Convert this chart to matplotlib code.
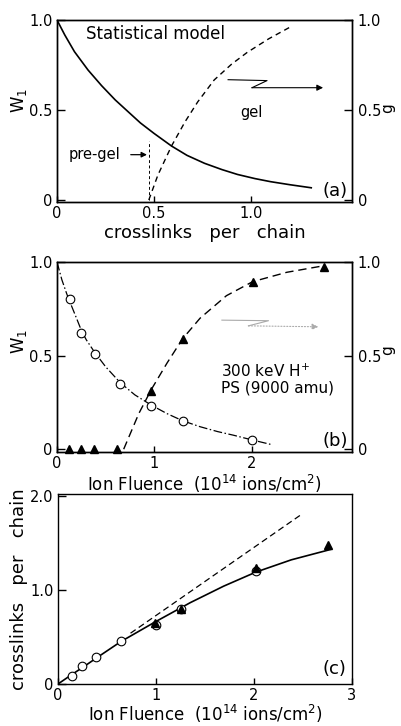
import matplotlib
matplotlib.use("Agg")
import matplotlib.pyplot as plt
from matplotlib import font_manager

plt.rcParams['font.family'] = ['DejaVu Sans']
plt.rcParams['mathtext.fontset'] = 'dejavusans'

# narrow font for tick labels if available
_names = {f.name for f in font_manager.fontManager.ttflist}
TICK_FAMILY = ['Liberation Sans Narrow'] if 'Liberation Sans Narrow' in _names else ['DejaVu Sans']

# ---------------- data ----------------
# panel (a): statistical model
a_w1_x = [0, 0.04, 0.09, 0.16, 0.23, 0.30, 0.37, 0.43, 0.50, 0.59, 0.67, 0.76, 0.85, 0.93,
          1.02, 1.10, 1.20, 1.31]
a_w1_y = [1.0, 0.917, 0.824, 0.722, 0.635, 0.556, 0.487, 0.428, 0.37, 0.30, 0.248, 0.204,
          0.169, 0.142, 0.119, 0.102, 0.085, 0.068]
a_g_x = [0.473, 0.52, 0.59, 0.66, 0.725, 0.81, 0.90, 0.98, 1.09, 1.20]
a_g_y = [0.0, 0.139, 0.30, 0.435, 0.545, 0.667, 0.755, 0.82, 0.895, 0.96]
gel_point = 0.473
gel_line_top = 0.33

# panel (b): 300 keV H+ on PS (9000 amu)
b_w1_pts_x = [0.13, 0.25, 0.39, 0.65, 0.97, 1.29, 2.0]
b_w1_pts_y = [0.80, 0.62, 0.51, 0.35, 0.23, 0.15, 0.05]
b_w1_fit_x = [0, 0.05, 0.10, 0.13, 0.20, 0.25, 0.30, 0.39, 0.50, 0.65, 0.80, 0.97, 1.13,
              1.29, 1.47, 1.65, 1.81, 2.0, 2.2]
b_w1_fit_y = [1.0, 0.905, 0.83, 0.79, 0.70, 0.635, 0.585, 0.515, 0.44, 0.355, 0.29, 0.235,
              0.19, 0.152, 0.12, 0.094, 0.075, 0.05, 0.025]
b_g_pts_x = [0.12, 0.25, 0.38, 0.62, 0.97, 1.29, 2.01, 2.74]
b_g_pts_y = [0.0, 0.0, 0.0, 0.0, 0.31, 0.59, 0.895, 0.975]
b_g_fit_x = [0.685, 0.84, 0.97, 1.13, 1.29, 1.47, 1.74, 2.01, 2.36, 2.74]
b_g_fit_y = [0.0, 0.19, 0.32, 0.46, 0.59, 0.70, 0.82, 0.895, 0.945, 0.98]

# panel (c): crosslinks per chain vs fluence
c_circ_x = [0.14, 0.245, 0.39, 0.64, 1.0, 1.25, 2.02]
c_circ_y = [0.09, 0.19, 0.29, 0.46, 0.625, 0.795, 1.20]
c_tri_x = [0.99, 1.25, 2.02, 2.76]
c_tri_y = [0.65, 0.80, 1.23, 1.48]
c_fit_x = [0, 0.14, 0.25, 0.39, 0.64, 1.0, 1.35, 1.69, 2.02, 2.38, 2.78]
c_fit_y = [0, 0.10, 0.175, 0.275, 0.45, 0.665, 0.865, 1.04, 1.19, 1.32, 1.43]
c_lin_x = [0.74, 2.48]
c_lin_y = [0.54, 1.80]

a_xticks = [0, 0.5, 1.0]
a_xticklabels = ['0', '0.5', '1.0']
y_ticks = [0, 0.5, 1.0]
y_ticklabels = ['0', '0.5', '1.0']
f_ticks_b = [0, 1, 2]
f_ticks_c = [0, 1, 2, 3]
c_yticks = [0, 1.0, 2.0]
c_yticklabels = ['0', '1.0', '2.0']

W, H = 401, 726
fig = plt.figure(figsize=(W / 100, H / 100), dpi=100)

TS = 11.5 if TICK_FAMILY[0] != 'DejaVu Sans' else 10.5
LS = 12


def box(l, t, r, b):
    return [l / W, 1 - b / H, (r - l) / W, (b - t) / H]


def style(ax):
    for s in ax.spines.values():
        s.set_linewidth(1.0)
    ax.tick_params(axis='y', direction='in', length=6, width=1, labelsize=TS, pad=3)
    ax.tick_params(axis='x', direction='in', length=4, width=1, labelsize=TS, pad=3)


def tickfont(ax):
    for lab in ax.get_xticklabels() + ax.get_yticklabels():
        lab.set_family(TICK_FAMILY)


def z_arrow(ax, pts, color='black', ls='-', ls2='-'):
    (x0, y0), (x1, y1), (x2, y2), (x3, y3) = pts
    ax.plot([x0, x1, x2], [y0, y1, y2], transform=ax.transAxes, color=color, lw=0.8, ls=ls)
    ax.annotate('', xy=(x3, y3), xytext=(x2, y2), xycoords='axes fraction',
                arrowprops=dict(arrowstyle='-|>', color=color, lw=0.8, ls=ls2,
                                mutation_scale=9, shrinkA=0, shrinkB=0))


# ---------------- panel (a) ----------------
axA = fig.add_axes(box(57, 20, 352, 202))
style(axA)
axA.set_xlim(0, 1.52)
axA.set_ylim(-0.011, 1.0)
axA.plot(a_w1_x, a_w1_y, color='black', lw=1.2)
axA.plot([gel_point, gel_point], [0, gel_line_top], color='black', lw=0.7, dashes=(3, 2.5))
axA.set_xticks(a_xticks)
axA.set_xticklabels(a_xticklabels)
axA.set_yticks(y_ticks)
axA.set_yticklabels(y_ticklabels)
tickfont(axA)
axA.set_xlabel('crosslinks   per   chain', fontsize=13, labelpad=2)
axA.set_ylabel('W$_1$', fontsize=LS)
axA.yaxis.set_label_coords(-0.095, 0.56)
axA.text(0.10, 0.925, 'Statistical model', transform=axA.transAxes, fontsize=12, va='center')
axA.text(0.04, 0.26, 'pre-gel', transform=axA.transAxes, fontsize=10.5, va='center')
axA.annotate('', xy=(0.305, 0.26), xytext=(0.25, 0.26), xycoords='axes fraction',
             arrowprops=dict(arrowstyle='-|>', color='black', lw=0.9, mutation_scale=8,
                             shrinkA=0, shrinkB=0))
axA.text(0.66, 0.49, 'gel', transform=axA.transAxes, fontsize=10.5, va='center', ha='center')
z_arrow(axA, [(0.58, 0.672), (0.712, 0.667), (0.661, 0.628), (0.902, 0.628)])
axA.text(0.985, 0.06, '(a)', transform=axA.transAxes, fontsize=13, ha='right', va='center')

axA2 = axA.twinx()
style(axA2)
axA2.set_ylim(-0.011, 1.0)
axA2.plot(a_g_x, a_g_y, color='black', lw=1.0, dashes=(4, 3))
axA2.set_yticks(y_ticks)
axA2.set_yticklabels(y_ticklabels)
tickfont(axA2)
axA2.tick_params(axis='y', pad=4)
axA2.set_ylabel('g', fontsize=11, rotation=90)
axA2.yaxis.set_label_coords(1.095, 0.516)

# ---------------- panel (b) ----------------
axB = fig.add_axes(box(57, 262, 352, 452))
style(axB)
axB.set_xlim(0, 3.03)
axB.set_ylim(-0.015, 1.0)
axB.plot(b_w1_fit_x, b_w1_fit_y, color='black', lw=0.9, dashes=(7, 2, 1.2, 2))
axB.plot(b_w1_pts_x, b_w1_pts_y, ls='none', marker='o', ms=6.2, mfc='white',
         mec='black', mew=0.8, zorder=5)
axB.set_xticks(f_ticks_b)
axB.set_yticks(y_ticks)
axB.set_yticklabels(y_ticklabels)
tickfont(axB)
axB.set_xlabel('Ion Fluence  (10$^{14}$ ions/cm$^2$)', fontsize=LS, labelpad=1)
axB.set_ylabel('W$_1$', fontsize=LS)
axB.yaxis.set_label_coords(-0.095, 0.584)
axB.text(0.555, 0.427, '300 keV H$^{+}$', transform=axB.transAxes, fontsize=11, va='center')
axB.text(0.555, 0.337, 'PS (9000 amu)', transform=axB.transAxes, fontsize=11, va='center')
z_arrow(axB, [(0.559, 0.694), (0.717, 0.691), (0.649, 0.664), (0.886, 0.659)],
        color='#aaaaaa', ls='-', ls2=':')
axB.text(0.985, 0.06, '(b)', transform=axB.transAxes, fontsize=13, ha='right', va='center')

axB2 = axB.twinx()
style(axB2)
axB2.set_ylim(-0.015, 1.0)
axB2.plot(b_g_fit_x, b_g_fit_y, color='black', lw=1.0, dashes=(6, 3.5))
axB2.plot(b_g_pts_x, b_g_pts_y, ls='none', marker='^', ms=5.5, color='black',
          clip_on=False, zorder=5)
axB2.set_yticks(y_ticks)
axB2.set_yticklabels(y_ticklabels)
tickfont(axB2)
axB2.tick_params(axis='y', pad=4)
axB2.set_ylabel('g', fontsize=11, rotation=90)
axB2.yaxis.set_label_coords(1.095, 0.537)

# ---------------- panel (c) ----------------
axC = fig.add_axes(box(58, 494, 352, 684))
style(axC)
axC.set_xlim(0, 3.0)
axC.set_ylim(0, 2.02)
axC.plot(c_fit_x, c_fit_y, color='black', lw=1.2)
axC.plot(c_lin_x, c_lin_y, color='black', lw=0.9, dashes=(5, 3))
axC.plot(c_circ_x, c_circ_y, ls='none', marker='o', ms=6.2, mfc='white',
         mec='black', mew=0.8, zorder=5)
axC.plot(c_tri_x, c_tri_y, ls='none', marker='^', ms=5.5, color='black', zorder=6)
axC.set_xticks(f_ticks_c)
axC.set_yticks(c_yticks)
axC.set_yticklabels(c_yticklabels)
tickfont(axC)
axC.set_xlabel('Ion Fluence  (10$^{14}$ ions/cm$^2$)', fontsize=LS, labelpad=0)
axC.set_ylabel('crosslinks   per   chain', fontsize=13)
axC.yaxis.set_label_coords(-0.102, 0.5)
axC.text(0.98, 0.08, '(c)', transform=axC.transAxes, fontsize=13, ha='right', va='center')

fig.savefig('out.png', dpi=100)
